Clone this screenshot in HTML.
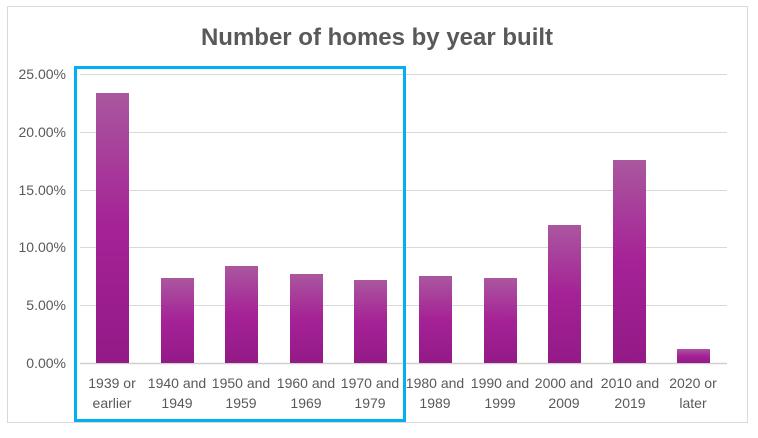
<!DOCTYPE html>
<html><head><style>
body{margin:0;background:#fff;}
text{font-family:"Liberation Sans",sans-serif;}
</style></head><body>
<svg width="758" height="433" xmlns="http://www.w3.org/2000/svg">
<defs>
<linearGradient id="g" x1="0" y1="0" x2="0" y2="1">
<stop offset="0" stop-color="#aa579f"/>
<stop offset="0.5" stop-color="#a52296"/>
<stop offset="1" stop-color="#931a87"/>
</linearGradient>
</defs>
<rect x="7.5" y="6.5" width="740" height="416" fill="#fff" stroke="#d9d9d9"/>
<text x="377" y="45" text-anchor="middle" font-size="24" font-weight="bold" fill="#595959">Number of homes by year built</text>
<g stroke="#d9d9d9" stroke-width="1">
<line x1="80" x2="727" y1="74.5" y2="74.5"/>
<line x1="80" x2="727" y1="132.5" y2="132.5"/>
<line x1="80" x2="727" y1="190.5" y2="190.5"/>
<line x1="80" x2="727" y1="247.5" y2="247.5"/>
<line x1="80" x2="727" y1="305.5" y2="305.5"/>
</g>
<line x1="80" x2="727" y1="363.5" y2="363.5" stroke="#d0d0d0" stroke-width="1.5"/>
<g font-size="14" fill="#595959" text-anchor="end">
<text x="66" y="79">25.00%</text>
<text x="66" y="137">20.00%</text>
<text x="66" y="195">15.00%</text>
<text x="66" y="252">10.00%</text>
<text x="66" y="310">5.00%</text>
<text x="66" y="368">0.00%</text>
</g>
<g fill="url(#g)">
<rect x="96" y="93" width="33" height="270"/>
<rect x="161" y="278" width="33" height="85"/>
<rect x="225" y="266" width="33" height="97"/>
<rect x="290" y="274" width="33" height="89"/>
<rect x="354" y="280" width="33" height="83"/>
<rect x="419" y="276" width="33" height="87"/>
<rect x="484" y="278" width="33" height="85"/>
<rect x="548" y="225" width="33" height="138"/>
<rect x="613" y="160" width="33" height="203"/>
<rect x="677" y="349" width="33" height="14"/>
</g>
<g font-size="14" fill="#595959" text-anchor="middle">
<text x="112" y="388">1939 or</text><text x="112" y="408">earlier</text>
<text x="177" y="388">1940 and</text><text x="177" y="408">1949</text>
<text x="241" y="388">1950 and</text><text x="241" y="408">1959</text>
<text x="306" y="388">1960 and</text><text x="306" y="408">1969</text>
<text x="370" y="388">1970 and</text><text x="370" y="408">1979</text>
<text x="435" y="388">1980 and</text><text x="435" y="408">1989</text>
<text x="500" y="388">1990 and</text><text x="500" y="408">1999</text>
<text x="564" y="388">2000 and</text><text x="564" y="408">2009</text>
<text x="630" y="388">2010 and</text><text x="630" y="408">2019</text>
<text x="693" y="388">2020 or</text><text x="693" y="408">later</text>
</g>
<rect x="75.5" y="67.5" width="329" height="353" fill="none" stroke="#00b0f0" stroke-width="3"/>
</svg>
</body></html>
